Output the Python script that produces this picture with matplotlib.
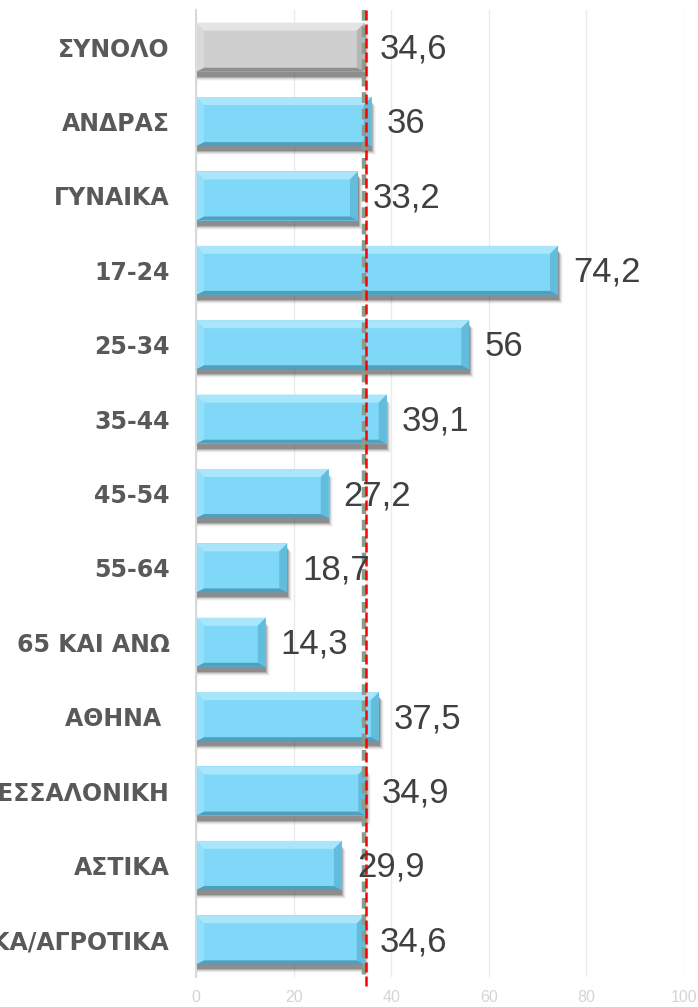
import numpy as np
import matplotlib.pyplot as plt
from matplotlib.patches import Polygon, Rectangle
from matplotlib import transforms

categories = ['ΣΥΝΟΛΟ', 'ΑΝΔΡΑΣ', 'ΓΥΝΑΙΚΑ', '17-24', '25-34', '35-44', '45-54',
              '55-64', '65 ΚΑΙ ΑΝΩ', 'ΑΘΗΝΑ ', 'ΘΕΣΣΑΛΟΝΙΚΗ', 'ΑΣΤΙΚΑ',
              'ΗΜΙΑΣΤΙΚΑ/ΑΓΡΟΤΙΚΑ']
values = [34.6, 36, 33.2, 74.2, 56, 39.1, 27.2, 18.7, 14.3, 37.5, 34.9, 29.9, 34.6]
value_labels = ['34,6', '36', '33,2', '74,2', '56', '39,1', '27,2', '18,7', '14,3',
                '37,5', '34,9', '29,9', '34,6']
total = values[0]
xticks = [0, 20, 40, 60, 80, 100]

narrow = ['Liberation Sans Narrow', 'DejaVu Sans Condensed', 'Liberation Sans']

W, H = 698, 1007
fig = plt.figure(figsize=(W / 100, H / 100), dpi=100)
ax = fig.add_axes([196 / W, 1 - 977 / H, 488 / W, 967 / H])
ax.set_xlim(0, 100)
ax.set_ylim(len(categories) - 0.5, -0.5)

# pixels per data unit, used to size the bevels
ppx = 488 / 100
ppy = 967 / len(categories)
bh = 0.66


def bevel_bar(y, w, base, light, dark, side):
    top, bot = y - bh / 2, y + bh / 2
    bx = min(8 / ppx, w / 3)
    by = 8 / ppy
    bb = 4 / ppy
    # soft shadow
    for k, a in zip(range(5), [0.3, 0.22, 0.14, 0.08, 0.04]):
        ax.add_patch(Rectangle((-0.3, top + (5 + k) / ppy), w + (2 + k) / ppx, bh,
                               facecolor='#404040', alpha=a, lw=0, zorder=1))
    ax.add_patch(Rectangle((0, top), w, bh, facecolor=base, lw=0, zorder=2))
    ax.add_patch(Polygon([(0, top), (w, top), (w - bx, top + by), (bx, top + by)],
                         closed=True, facecolor=light, lw=0, zorder=3))
    ax.add_patch(Polygon([(w, top), (w, bot), (w - bx, bot - bb), (w - bx, top + by)],
                         closed=True, facecolor=side, lw=0, zorder=3))
    ax.add_patch(Polygon([(0, bot), (w, bot), (w - bx, bot - bb), (bx, bot - bb)],
                         closed=True, facecolor=dark, lw=0, zorder=3))
    ax.add_patch(Polygon([(0, top), (bx, top + by), (bx, bot - bb), (0, bot)],
                         closed=True, facecolor=light, alpha=0.5, lw=0, zorder=3))


for i, (v, lab) in enumerate(zip(values, value_labels)):
    if i == 0:
        bevel_bar(i, v, '#cfcfcf', '#e4e4e4', '#8f8f8f', '#b5b5b5')
    else:
        bevel_bar(i, v, '#7fd8f8', '#a9e6fb', '#4f9fbd', '#62bcdc')
    ax.annotate(lab, (v, i), xytext=(15, -2), textcoords='offset pixels',
                ha='left', va='center', fontsize=25, color='#404040',
                family=narrow, zorder=6)

# average reference lines
off1 = transforms.offset_copy(ax.transData, fig=fig, x=-1.2, y=0, units='dots')
off2 = transforms.offset_copy(ax.transData, fig=fig, x=1.5, y=0, units='dots')
ax.plot([total, total], [-0.5, len(categories) - 0.5], transform=off1,
        color='#8a9c8c', lw=3.2, dashes=(2.4, 1.3), zorder=5, solid_capstyle='butt')
ax.plot([total, total], [-0.5, len(categories) - 0.38], transform=off2,
        color='#ff0000', lw=1.8, dashes=(4, 1.6), zorder=5, clip_on=False)

ax.set_yticks(range(len(categories)))
ax.set_yticklabels(categories, fontsize=17, fontweight='bold', color='#595959',
                   family='DejaVu Sans')
ax.tick_params(axis='y', length=0, pad=19)
ax.set_xticks(xticks)
ax.set_xticklabels([str(t) for t in xticks], fontsize=11.5, color='#d4d4d4',
                   family=narrow)
ax.tick_params(axis='x', length=0, pad=9)
ax.grid(axis='x', color='#ebebeb', lw=1)
ax.set_axisbelow(True)
for s in ['top', 'right', 'bottom']:
    ax.spines[s].set_visible(False)
ax.spines['left'].set_color('#d9d9d9')
ax.spines['left'].set_linewidth(1.5)

fig.savefig('out.png', dpi=100)
